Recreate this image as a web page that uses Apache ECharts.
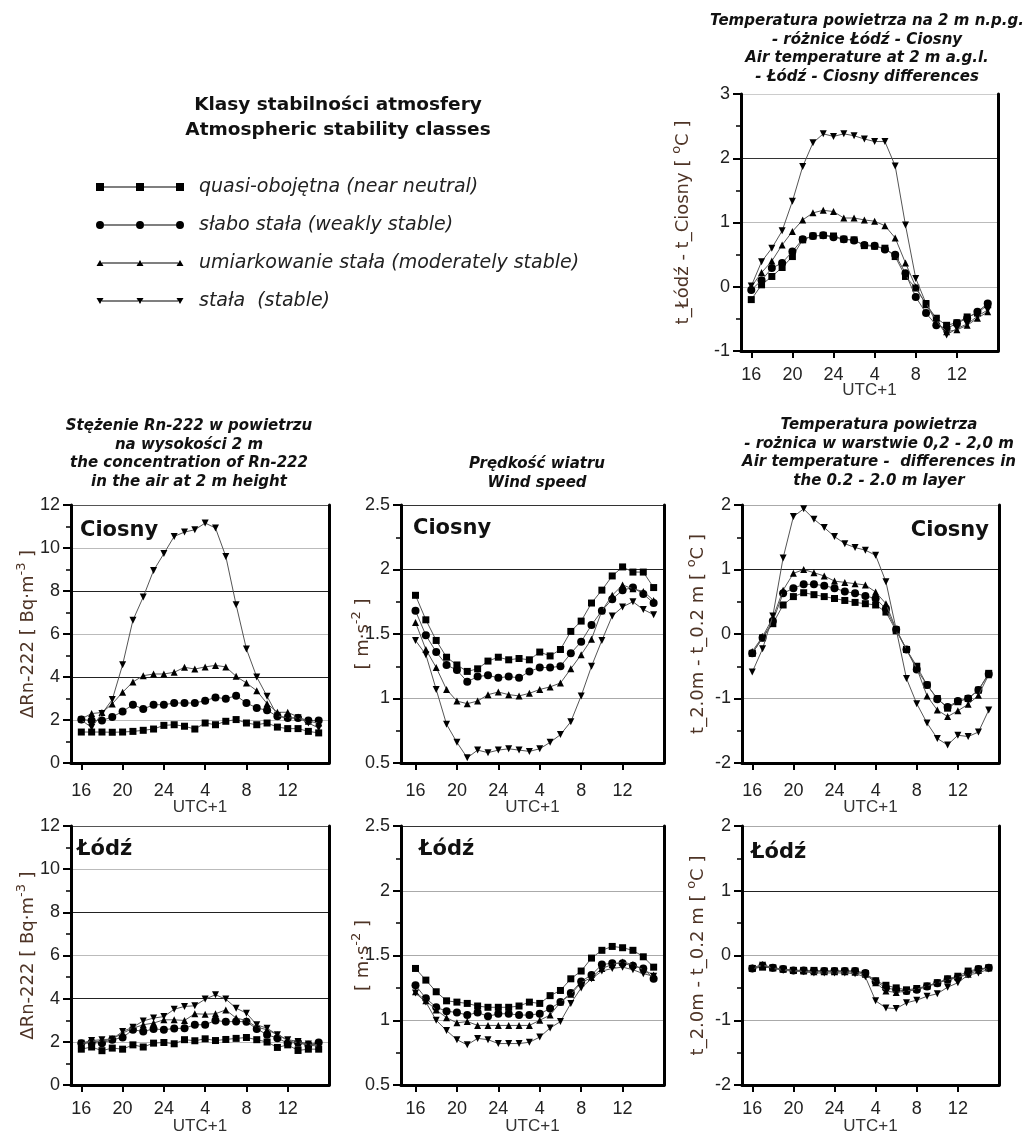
<!DOCTYPE html>
<html>
<head>
<meta charset="utf-8">
<script src="https://cdn.jsdelivr.net/npm/echarts@6/dist/echarts.min.js"></script>
<style>
html, body { margin: 0; padding: 0; background: #fff; }
#main { width: 1024px; height: 1140px; }
</style>
</head>
<body>
<div id="main"></div>
<script>
// godziny UTC+1 od 16:00; 25..39 = 1..15 następnego dnia
var hours = [16, 17, 18, 19, 20, 21, 22, 23, 24, 25, 26, 27, 28, 29, 30, 31, 32, 33, 34, 35, 36, 37, 38, 39];
var hourTicks = [16, 20, 24, 28, 32, 36];

var classNames = ['quasi-obojętna (near neutral)', 'słabo stała (weakly stable)',
	'umiarkowanie stała (moderately stable)', 'stała  (stable)'];

// t_Łódź - t_Ciosny
var dtNeutral = [-0.20, 0.03, 0.16, 0.30, 0.47, 0.73, 0.79, 0.80, 0.79, 0.74, 0.73, 0.64, 0.63, 0.60, 0.47, 0.16, -0.02, -0.27, -0.49, -0.60, -0.56, -0.47, -0.41, -0.28];
var dtWeak = [-0.05, 0.10, 0.29, 0.37, 0.55, 0.74, 0.79, 0.80, 0.77, 0.74, 0.72, 0.65, 0.64, 0.58, 0.50, 0.21, -0.16, -0.41, -0.60, -0.65, -0.57, -0.49, -0.39, -0.26];
var dtModerate = [0.00, 0.22, 0.40, 0.65, 0.86, 1.04, 1.15, 1.19, 1.17, 1.07, 1.07, 1.04, 1.02, 0.95, 0.76, 0.37, 0.00, -0.28, -0.54, -0.70, -0.67, -0.60, -0.49, -0.39];
var dtStable = [0.01, 0.39, 0.60, 0.87, 1.33, 1.87, 2.24, 2.38, 2.34, 2.38, 2.35, 2.30, 2.26, 2.26, 1.88, 0.96, 0.13, -0.26, -0.52, -0.75, -0.65, -0.58, -0.46, -0.36];

// Rn-222, Ciosny
var rnCNeutral = [1.44, 1.44, 1.44, 1.43, 1.44, 1.47, 1.52, 1.58, 1.75, 1.78, 1.71, 1.58, 1.86, 1.78, 1.94, 2.02, 1.86, 1.78, 1.86, 1.67, 1.60, 1.60, 1.47, 1.40];
var rnCWeak = [2.02, 1.98, 1.98, 2.14, 2.40, 2.71, 2.51, 2.71, 2.71, 2.79, 2.79, 2.79, 2.90, 3.05, 2.99, 3.13, 2.79, 2.56, 2.45, 2.17, 2.09, 2.09, 1.98, 1.98];
var rnCModerate = [2.05, 2.30, 2.35, 2.75, 3.29, 3.77, 4.06, 4.14, 4.14, 4.22, 4.45, 4.37, 4.47, 4.54, 4.47, 4.03, 3.72, 3.36, 2.76, 2.36, 2.36, 2.14, 1.94, 1.86];
var rnCStable = [2.00, 1.65, 2.30, 2.95, 4.57, 6.64, 7.72, 8.95, 9.74, 10.54, 10.74, 10.85, 11.16, 10.93, 9.61, 7.36, 5.30, 4.00, 3.10, 2.20, 2.10, 2.10, 1.86, 1.63];

// predkosc wiatru, Ciosny
var wsCNeutral = [1.80, 1.61, 1.45, 1.32, 1.26, 1.21, 1.23, 1.29, 1.32, 1.30, 1.31, 1.30, 1.36, 1.33, 1.38, 1.52, 1.60, 1.74, 1.84, 1.95, 2.02, 1.98, 1.98, 1.86];
var wsCWeak = [1.68, 1.49, 1.36, 1.26, 1.22, 1.13, 1.17, 1.18, 1.16, 1.17, 1.16, 1.21, 1.24, 1.24, 1.25, 1.35, 1.44, 1.57, 1.68, 1.77, 1.84, 1.86, 1.81, 1.74];
var wsCModerate = [1.59, 1.38, 1.24, 1.07, 0.98, 0.96, 0.98, 1.03, 1.05, 1.03, 1.02, 1.04, 1.07, 1.09, 1.12, 1.23, 1.34, 1.46, 1.68, 1.80, 1.88, 1.85, 1.83, 1.76];
var wsCStable = [1.45, 1.34, 1.07, 0.80, 0.66, 0.54, 0.60, 0.58, 0.60, 0.61, 0.60, 0.59, 0.61, 0.66, 0.72, 0.82, 1.02, 1.25, 1.45, 1.64, 1.71, 1.75, 1.69, 1.65];

// t_2.0m - t_0.2m, Ciosny
var tgCNeutral = [-0.30, -0.06, 0.16, 0.45, 0.58, 0.64, 0.61, 0.58, 0.55, 0.52, 0.49, 0.47, 0.45, 0.34, 0.05, -0.24, -0.50, -0.79, -1.00, -1.15, -1.05, -1.00, -0.87, -0.61];
var tgCWeak = [-0.30, -0.06, 0.20, 0.63, 0.71, 0.77, 0.77, 0.75, 0.71, 0.66, 0.63, 0.59, 0.55, 0.39, 0.07, -0.24, -0.55, -0.79, -1.01, -1.13, -1.04, -1.00, -0.87, -0.62];
var tgCModerate = [-0.27, -0.04, 0.25, 0.68, 0.94, 1.00, 0.95, 0.90, 0.82, 0.80, 0.78, 0.76, 0.65, 0.47, 0.07, -0.24, -0.53, -0.96, -1.18, -1.28, -1.19, -1.09, -0.95, -0.63];
var tgCStable = [-0.59, -0.23, 0.28, 1.18, 1.82, 1.94, 1.78, 1.65, 1.51, 1.40, 1.34, 1.30, 1.22, 0.81, 0.07, -0.69, -1.08, -1.38, -1.62, -1.72, -1.57, -1.59, -1.52, -1.18];

// Rn-222, Łódź
var rnLNeutral = [1.66, 1.76, 1.59, 1.71, 1.66, 1.86, 1.76, 1.94, 1.97, 1.91, 2.10, 2.05, 2.14, 2.06, 2.11, 2.16, 2.20, 2.10, 1.99, 1.74, 1.86, 1.60, 1.66, 1.66];
var rnLWeak = [1.94, 1.97, 1.94, 2.10, 2.20, 2.56, 2.48, 2.60, 2.56, 2.62, 2.63, 2.79, 2.79, 2.99, 2.93, 2.94, 2.93, 2.60, 2.33, 2.17, 1.94, 1.97, 1.86, 1.97];
var rnLModerate = [1.86, 2.02, 2.02, 2.13, 2.40, 2.63, 2.79, 2.87, 3.02, 3.02, 2.99, 3.30, 3.28, 3.30, 3.48, 3.10, 2.99, 2.68, 2.56, 2.33, 2.06, 1.94, 1.86, 1.79];
var rnLStable = [1.94, 2.06, 2.10, 2.13, 2.48, 2.68, 2.97, 3.10, 3.17, 3.51, 3.64, 3.67, 3.98, 4.18, 3.98, 3.56, 3.33, 2.79, 2.63, 2.33, 2.10, 2.02, 1.90, 1.86];

// predkosc wiatru, Łódź
var wsLNeutral = [1.40, 1.31, 1.22, 1.15, 1.14, 1.13, 1.11, 1.10, 1.10, 1.10, 1.11, 1.14, 1.13, 1.19, 1.23, 1.32, 1.38, 1.48, 1.54, 1.57, 1.56, 1.54, 1.49, 1.41];
var wsLWeak = [1.27, 1.17, 1.10, 1.07, 1.06, 1.04, 1.06, 1.03, 1.05, 1.05, 1.04, 1.04, 1.05, 1.09, 1.14, 1.21, 1.30, 1.35, 1.43, 1.44, 1.44, 1.42, 1.40, 1.32];
var wsLModerate = [1.22, 1.15, 1.08, 1.02, 0.98, 0.99, 0.96, 0.96, 0.96, 0.96, 0.96, 0.96, 1.00, 1.04, 1.14, 1.20, 1.29, 1.33, 1.40, 1.43, 1.45, 1.43, 1.39, 1.35];
var wsLStable = [1.21, 1.14, 1.00, 0.92, 0.85, 0.81, 0.86, 0.85, 0.82, 0.82, 0.82, 0.83, 0.87, 0.94, 0.99, 1.13, 1.25, 1.32, 1.38, 1.40, 1.41, 1.39, 1.36, 1.34];

// t_2.0m - t_0.2m, Łódź
var tgLNeutral = [-0.20, -0.18, -0.19, -0.21, -0.23, -0.23, -0.23, -0.24, -0.24, -0.24, -0.24, -0.28, -0.39, -0.46, -0.50, -0.53, -0.51, -0.47, -0.42, -0.36, -0.32, -0.24, -0.21, -0.19];
var tgLWeak = [-0.20, -0.16, -0.19, -0.21, -0.23, -0.23, -0.24, -0.24, -0.24, -0.24, -0.24, -0.27, -0.40, -0.50, -0.53, -0.55, -0.53, -0.48, -0.43, -0.37, -0.34, -0.27, -0.21, -0.19];
var tgLModerate = [-0.19, -0.14, -0.19, -0.21, -0.23, -0.24, -0.25, -0.25, -0.25, -0.25, -0.26, -0.29, -0.42, -0.55, -0.57, -0.55, -0.52, -0.47, -0.42, -0.38, -0.34, -0.29, -0.23, -0.19];
var tgLStable = [-0.21, -0.15, -0.20, -0.23, -0.24, -0.25, -0.27, -0.27, -0.27, -0.27, -0.28, -0.33, -0.70, -0.81, -0.82, -0.73, -0.69, -0.63, -0.59, -0.49, -0.42, -0.30, -0.27, -0.21];

var FONT = '"Liberation Sans", Arial, sans-serif';
var WIDE = '"DejaVu Sans", sans-serif';
var NAME_COLOR = '#4e3426';

// symbole klas: kwadrat, kolo, trojkat w gore, trojkat w dol
var symbols = [
	{ symbol: 'rect', size: 7, rotate: 0 },
	{ symbol: 'circle', size: 8, rotate: 0 },
	{ symbol: 'triangle', size: 7, rotate: 0 },
	{ symbol: 'triangle', size: 7, rotate: 180 }
];

// ikony legendy: linia z trzema znacznikami (88 x 12)
var corners = 'M0 0L0.01 0L0 0.01Z M88 12L87.99 12L88 11.99Z ';
var legendIcons = [
	'path://' + corners + 'M8 5.5H40V6.5H8Z M48 5.5H80V6.5H48Z M0 2H8V10H0Z M40 2H48V10H40Z M80 2H88V10H80Z',
	'path://' + corners + 'M8 5.5H40V6.5H8Z M48 5.5H80V6.5H48Z M0 6A4 4 0 1 1 8 6A4 4 0 1 1 0 6Z M40 6A4 4 0 1 1 48 6A4 4 0 1 1 40 6Z M80 6A4 4 0 1 1 88 6A4 4 0 1 1 80 6Z',
	'path://' + corners + 'M6 5.5H42V6.5H6Z M46 5.5H82V6.5H46Z M0.5 9L4 3L7.5 9Z M40.5 9L44 3L47.5 9Z M80.5 9L84 3L87.5 9Z',
	'path://' + corners + 'M6 5.5H42V6.5H6Z M46 5.5H82V6.5H46Z M0.5 3L7.5 3L4 9Z M40.5 3L47.5 3L44 9Z M80.5 3L87.5 3L84 9Z'
];

// indeks gorny: mala linia przy gornej krawedzi wyzszej linii tekstu
var nameRich = {
	n: { fontSize: 18, lineHeight: 26, color: NAME_COLOR, fontFamily: WIDE },
	s: { fontSize: 13, lineHeight: 13, color: NAME_COLOR, fontFamily: WIDE, verticalAlign: 'top' }
};

var option = {
	backgroundColor: '#fff',
	animation: false,
	textStyle: { fontFamily: FONT },
	title: [],
	legend: {
		orient: 'vertical',
		left: 91,
		top: 172,
		itemWidth: 88,
		itemHeight: 12,
		itemGap: 18,
		selectedMode: false,
		itemStyle: { borderWidth: 0 },
		textStyle: { fontSize: 19, fontStyle: 'italic', color: '#222', fontFamily: WIDE, lineHeight: 20, padding: [0, 0, 0, 10] },
		data: classNames.map(function (n, i) { return { name: n, icon: legendIcons[i] }; })
	},
	grid: [],
	xAxis: [],
	yAxis: [],
	series: []
};

function hourLabel(v) {
	return String(v > 24 ? v - 24 : v);
}

function addPanel(p) {
	var gi = option.grid.length;
	option.grid.push({ left: p.left, top: p.top, width: p.width, height: p.height, containLabel: false, outerBoundsMode: 'none' });

	option.xAxis.push({
		type: 'value', gridIndex: gi, min: p.xMin, max: 40,
		name: 'UTC+1', nameLocation: 'middle', nameGap: p.xNameGap, nameMoveOverlap: false,
		nameTextStyle: { fontSize: 17, color: '#333', fontFamily: FONT },
		axisLine: { show: true, onZero: false, lineStyle: { color: '#000', width: 3 } },
		axisTick: { show: true, customValues: hourTicks, length: 7, lineStyle: { color: '#000', width: 2 } },
		axisLabel: { customValues: hourTicks, formatter: hourLabel, margin: p.xMargin, fontSize: 18, color: '#222', fontFamily: FONT },
		splitLine: { show: false }
	});

	var yi = option.yAxis.length;
	option.yAxis.push({
		type: 'value', gridIndex: gi, min: p.yMin, max: p.yMax, interval: p.step,
		name: p.yName, nameLocation: 'middle', nameRotate: 90, nameGap: p.nameGap, nameMoveOverlap: false,
		nameTextStyle: { rich: nameRich },
		axisLine: { show: true, onZero: false, lineStyle: { color: '#000', width: 3 } },
		axisTick: { show: true, length: 8, lineStyle: { color: '#000', width: 2 } },
		minorTick: { show: true, splitNumber: 2, length: 5, lineStyle: { color: '#000', width: 1.5 } },
		axisLabel: { margin: 11, fontSize: 18, color: '#222', fontFamily: FONT },
		splitLine: { show: true, lineStyle: { color: p.gridColors, width: 1 } }
	});
	// prawa krawedz
	option.yAxis.push({
		type: 'value', gridIndex: gi, position: 'right', min: p.yMin, max: p.yMax,
		axisLine: { show: true, onZero: false, lineStyle: { color: '#000', width: 3 } },
		axisTick: { show: false }, axisLabel: { show: false }, splitLine: { show: false }
	});

	p.data.forEach(function (values, k) {
		option.series.push({
			type: 'line', name: classNames[k], xAxisIndex: gi, yAxisIndex: yi,
			data: hours.map(function (h, i) { return [h, values[i]]; }),
			symbol: symbols[k].symbol, symbolSize: symbols[k].size, symbolRotate: symbols[k].rotate,
			showSymbol: true,
			lineStyle: { color: '#555', width: 1 },
			itemStyle: { color: '#000' },
			z: 3 + k
		});
	});

	if (p.label) {
		var t = {
			text: p.label.text, top: p.label.y, padding: 0,
			textStyle: { fontSize: 21, fontWeight: 'bold', color: '#111', fontFamily: WIDE }
		};
		if (p.label.right != null) t.right = p.label.right; else t.left = p.label.x;
		option.title.push(t);
	}
}

function addHeading(text, x, y) {
	option.title.push({
		text: text, left: x, top: y, padding: 0, textAlign: 'center',
		textStyle: { fontSize: 15, fontWeight: 'bold', fontStyle: 'italic', color: '#111', lineHeight: 18.6, fontFamily: WIDE }
	});
}

var nameTR = '{n|t_Łódź - t_Ciosny [ }{s|o}{n|C ]}';
var nameRn = '{n|ΔRn-222 [ Bq·m}{s|-3}{n| ]}';
var nameWs = '{n|[ m·s}{s|-2}{n| ]}';
var nameTg = '{n|t_2.0m - t_0.2 m [ }{s|o}{n|C ]}';

var gridTR = ['#000', '#bbb', '#bbb', '#333', '#ccc'];
var gridRn = ['#000', '#bbb', '#222', '#bbb', '#222', '#bbb', '#555'];
var gridWsC = ['#000', '#aaa', '#aaa', '#222', '#333'];
var gridWsL = ['#000', '#aaa', '#aaa', '#aaa', '#333'];
var gridTg = ['#000', '#aaa', '#aaa', '#222', '#aaa'];

addPanel({ left: 741, top: 94, width: 257, height: 257, xMin: 15, yMin: -1, yMax: 3, step: 1,
	xMargin: 15, xNameGap: 31,
	yName: nameTR, nameGap: 45, gridColors: gridTR,
	data: [dtNeutral, dtWeak, dtModerate, dtStable] });

addPanel({ left: 71, top: 505, width: 258, height: 258, xMin: 15, yMin: 0, yMax: 12, step: 2,
	xMargin: 19, xNameGap: 36,
	yName: nameRn, nameGap: 30, gridColors: gridRn, label: { text: 'Ciosny', x: 80, y: 520 },
	data: [rnCNeutral, rnCWeak, rnCModerate, rnCStable] });
addPanel({ left: 401, top: 505, width: 263, height: 258, xMin: 14.6, yMin: 0.5, yMax: 2.5, step: 0.5,
	xMargin: 19, xNameGap: 36,
	yName: nameWs, nameGap: 25, gridColors: gridWsC, label: { text: 'Ciosny', x: 413, y: 518 },
	data: [wsCNeutral, wsCWeak, wsCModerate, wsCStable] });
addPanel({ left: 742, top: 505, width: 257, height: 258, xMin: 15, yMin: -2, yMax: 2, step: 1,
	xMargin: 19, xNameGap: 36,
	yName: nameTg, nameGap: 31, gridColors: gridTg, label: { text: 'Ciosny', right: 35, y: 520 },
	data: [tgCNeutral, tgCWeak, tgCModerate, tgCStable] });

addPanel({ left: 71, top: 826, width: 258, height: 259, xMin: 15, yMin: 0, yMax: 12, step: 2,
	xMargin: 15, xNameGap: 33,
	yName: nameRn, nameGap: 30, gridColors: gridRn, label: { text: 'Łódź', x: 77, y: 839 },
	data: [rnLNeutral, rnLWeak, rnLModerate, rnLStable] });
addPanel({ left: 401, top: 826, width: 263, height: 259, xMin: 14.6, yMin: 0.5, yMax: 2.5, step: 0.5,
	xMargin: 15, xNameGap: 33,
	yName: nameWs, nameGap: 25, gridColors: gridWsL, label: { text: 'Łódź', x: 419, y: 839 },
	data: [wsLNeutral, wsLWeak, wsLModerate, wsLStable] });
addPanel({ left: 742, top: 826, width: 257, height: 259, xMin: 15, yMin: -2, yMax: 2, step: 1,
	xMargin: 15, xNameGap: 33,
	yName: nameTg, nameGap: 31, gridColors: gridTg, label: { text: 'Łódź', x: 751, y: 842 },
	data: [tgLNeutral, tgLWeak, tgLModerate, tgLStable] });

addHeading('Temperatura powietrza na 2 m n.p.g.\n- różnice Łódź - Ciosny\nAir temperature at 2 m a.g.l.\n- Łódź - Ciosny differences', 867, 12);
addHeading('Stężenie Rn-222 w powietrzu\nna wysokości 2 m\nthe concentration of Rn-222\nin the air at 2 m height', 189, 417);
addHeading('Prędkość wiatru\nWind speed', 537, 455);
addHeading('Temperatura powietrza\n- rożnica w warstwie 0,2 - 2,0 m\nAir temperature -  differences in\nthe 0.2 - 2.0 m layer', 879, 416);

option.title.push({
	text: 'Klasy stabilności atmosfery\nAtmospheric stability classes', left: 338, top: 93, padding: 0, textAlign: 'center',
	textStyle: { fontSize: 18.5, fontWeight: 'bold', color: '#111', lineHeight: 25, fontFamily: WIDE }
});

var chart = echarts.init(document.getElementById('main'), null, { renderer: 'canvas' });
chart.setOption(option);
</script>
</body>
</html>
